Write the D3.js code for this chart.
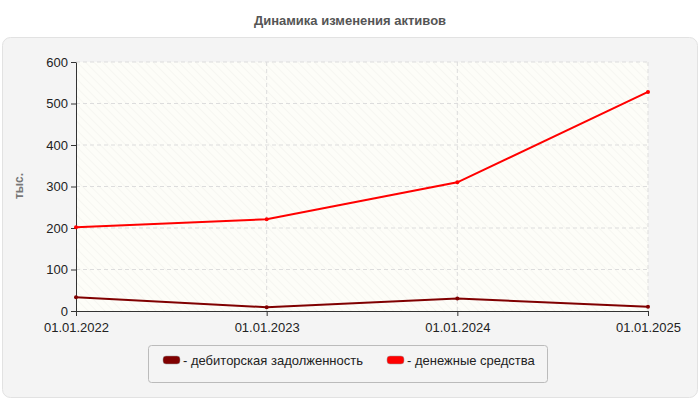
<!DOCTYPE html>
<html><head><meta charset="utf-8">
<script src="https://cdn.jsdelivr.net/npm/d3@7"></script>
<style>body{margin:0;background:#fff;font-family:"Liberation Sans",Arial,sans-serif}</style>
</head><body><svg id="c" width="700" height="400"></svg>
<script>
const dates = ["01.01.2022", "01.01.2023", "01.01.2024", "01.01.2025"];
const receivables = [33, 9, 30, 10];
const cash = [202, 221, 310, 528];
const yTicks = [0, 100, 200, 300, 400, 500, 600];
const seriesNames = ["дебиторская задолженность", "денежные средства"];
const seriesColors = ["#800000", "#ff0000"];

const svg = d3.select("#c");
const m = { left: 76, right: 52, top: 62, bottom: 89 };
const w = 700 - m.left - m.right, h = 400 - m.top - m.bottom;
const font = "'Liberation Sans', Arial, sans-serif";

svg.append("text").attr("x", 350).attr("y", 25).attr("text-anchor", "middle")
  .style("font-size", "13px").style("font-weight", "bold").style("fill", "#555")
  .style("font-family", font).text("Динамика изменения активов");

svg.append("rect").attr("x", 2.5).attr("y", 37.5).attr("width", 695).attr("height", 360)
  .attr("rx", 8).attr("fill", "#f4f4f4").attr("stroke", "#e2e2e2");

const defs = svg.append("defs");
const pat = defs.append("pattern").attr("id", "hatch").attr("width", 6).attr("height", 6)
  .attr("patternUnits", "userSpaceOnUse").attr("patternTransform", "rotate(-45)");
pat.append("rect").attr("width", 6).attr("height", 6).attr("fill", "#fdfdf8");
pat.append("line").attr("x1", 0).attr("y1", 0).attr("x2", 0).attr("y2", 6)
  .attr("stroke", "#f0f0ea").attr("stroke-width", 1);

const g = svg.append("g").attr("transform", `translate(${m.left},${m.top})`);
g.append("rect").attr("width", w).attr("height", h).attr("fill", "url(#hatch)");

const x = d3.scalePoint().domain(dates).range([0, w]);
const y = d3.scaleLinear().domain([0, 600]).range([h, 0]);

g.selectAll(".hg").data(yTicks.slice(1)).join("line")
  .attr("x1", 0).attr("x2", w).attr("y1", d => y(d)).attr("y2", d => y(d))
  .attr("stroke", "#ddd").attr("stroke-dasharray", "4,3");
g.selectAll(".vg").data(dates.slice(1)).join("line")
  .attr("x1", d => x(d)).attr("x2", d => x(d)).attr("y1", 0).attr("y2", h)
  .attr("stroke", "#ddd").attr("stroke-dasharray", "4,3");

const ya = g.append("g").call(d3.axisLeft(y).tickValues(yTicks).tickSize(5).tickSizeOuter(0));
const xa = g.append("g").attr("transform", `translate(0,${h})`)
  .call(d3.axisBottom(x).tickSize(5).tickSizeOuter(0));
[ya, xa].forEach(a => {
  a.selectAll("text").style("font-size", "13px").style("fill", "#222").style("font-family", font);
  a.selectAll("line,path").attr("stroke", "#333");
});
xa.selectAll("text").attr("dy", "1em");

svg.append("text").attr("transform", "translate(23,186) rotate(-90)")
  .attr("text-anchor", "middle").style("font-size", "12px").style("font-weight", "bold")
  .style("fill", "#777").style("font-family", font).text("тыс.");

const line = d3.line().x((d, i) => x(dates[i])).y(d => y(d));
[receivables, cash].forEach((s, k) => {
  g.append("path").datum(s).attr("d", line).attr("fill", "none")
    .attr("stroke", seriesColors[k]).attr("stroke-width", 2);
  g.selectAll(null).data(s).join("circle").attr("cx", (d, i) => x(dates[i]))
    .attr("cy", d => y(d)).attr("r", 2).attr("fill", seriesColors[k]);
});

const lg = svg.append("g");
lg.append("rect").attr("x", 148.5).attr("y", 345.5).attr("width", 399).attr("height", 37)
  .attr("rx", 3).attr("fill", "#f4f4f4").attr("stroke", "#bbb");
const lx = [163, 387];
seriesNames.forEach((n, k) => {
  lg.append("rect").attr("x", lx[k]).attr("y", 356).attr("width", 17).attr("height", 8)
    .attr("rx", 3).attr("fill", seriesColors[k]).attr("stroke", "#999").attr("stroke-width", 0.5);
  lg.append("text").attr("x", lx[k] + 20).attr("y", 365).style("font-size", "13px")
    .style("fill", "#222").style("font-family", font).text("- " + n);
});
</script></body></html>
